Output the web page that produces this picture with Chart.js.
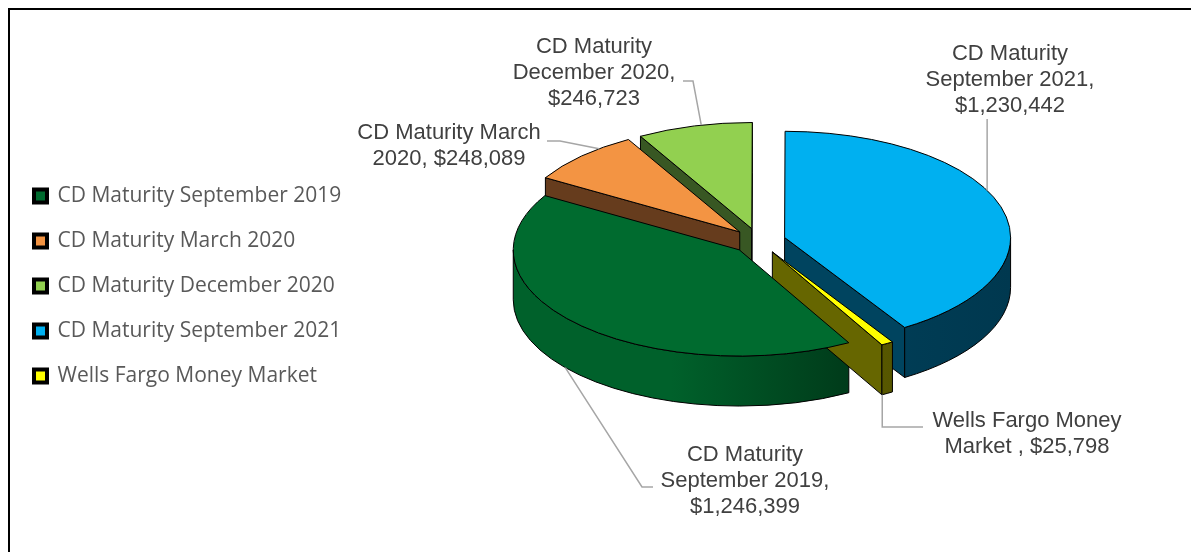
<!DOCTYPE html>
<html>
<head>
<meta charset="utf-8">
<script src="https://cdn.jsdelivr.net/npm/chart.js@4.4.1/dist/chart.umd.min.js"></script>
<style>
    html, body { margin: 0; padding: 0; background: #fff; }
    #wrap { position: relative; width: 1191px; height: 552px; overflow: hidden; }
    #frame { position: absolute; left: 8px; top: 8px; width: 1200px; height: 600px;
             border-left: 2px solid #000; border-top: 2px solid #000; pointer-events: none; }
    canvas { position: absolute; left: 0; top: 0; }
</style>
</head>
<body>
<div id="wrap">
    <canvas id="pie-chart" width="1191" height="552"></canvas>
    <div id="frame"></div>
</div>
<script>
// Portfolio data
const categories = [
    'CD Maturity September 2019',
    'CD Maturity March 2020',
    'CD Maturity December 2020',
    'CD Maturity September 2021',
    'Wells Fargo Money Market '
];
const balances = [1246399, 248089, 246723, 1230442, 25798];

// Colours: top face, side walls
const topColors = ['#006B2F', '#F39443', '#92D050', '#00B0F0', '#FFFF00'];
const sideColors = ['#00612B', '#663C1D', '#385723', '#00445F', '#666600'];
const sideDarkColors = ['#00220F', '#4A2A12', '#263D18', '#00384F', '#4D4D00'];

// 3D look
const TILT = 0.47;      // vertical squash of the pie
const DEPTH = 50;       // thickness in px
const EXPLODE = 27;     // pull-out of each slice
const SHIFT_Y = -45;    // pie sits above the chart-area centre

// Data label layout: text centre x, first line y, wrap width,
// where the leader touches the slice (fraction along the slice, depth)
// and the leader's elbows (null x = straight down from the anchor)
const labelLayout = [
    { x: 745, y: 455, wrap: 190, at: 0.53, z: DEPTH, leader: [[642, 487], [653, 487]] },
    { x: 449, y: 133, wrap: 200, at: 0.70, z: 0, leader: [[560, 141], [547, 141]] },
    { x: 594, y: 47, wrap: 190, at: 0.56, z: 0, leader: [[693, 81], [683, 81]] },
    { x: 1010, y: 54, wrap: 190, at: 0.43, z: 0, leader: [[null, 119]] },
    { x: 1027, y: 421, wrap: 200, at: 0.97, z: DEPTH, leader: [[null, 427], [923, 427]] }
];
const LABEL_FONT = '22px "Liberation Sans", Arial, sans-serif';
const LABEL_LINE = 26;

// pieces of [s, e] that face the viewer (canvas angles with sin > 0)
function frontRanges(s, e) {
    const out = [];
    for (let k = -1; k <= 2; k++) {
        const lo = Math.max(s, k * 2 * Math.PI);
        const hi = Math.min(e, k * 2 * Math.PI + Math.PI);
        if (hi > lo) out.push([lo, hi]);
    }
    return out;
}

function sliceGeometry(arc) {
    const p = arc.getProps(['x', 'y', 'startAngle', 'endAngle', 'outerRadius'], true);
    const mid = (p.startAngle + p.endAngle) / 2;
    return {
        arc: arc,
        x0: p.x,
        y0: p.y,
        s: p.startAngle,
        e: p.endAngle,
        r: p.outerRadius,
        cx: p.x + Math.cos(mid) * EXPLODE,
        cy: p.y + SHIFT_Y + Math.sin(mid) * EXPLODE * TILT
    };
}

function rimPoint(g, a, z) {
    return [g.cx + g.r * Math.cos(a), g.cy + g.r * TILT * Math.sin(a) + z];
}

function drawWall(ctx, g, a, color) {
    const [ox, oy] = rimPoint(g, a, 0);
    ctx.beginPath();
    ctx.moveTo(g.cx, g.cy);
    ctx.lineTo(ox, oy);
    ctx.lineTo(ox, oy + DEPTH);
    ctx.lineTo(g.cx, g.cy + DEPTH);
    ctx.closePath();
    ctx.fillStyle = color;
    ctx.fill();
    ctx.stroke();
}

function drawRim(ctx, g, i) {
    frontRanges(g.s, g.e).forEach(([t0, t1]) => {
        const grad = ctx.createLinearGradient(g.cx - g.r, 0, g.cx + g.r, 0);
        grad.addColorStop(0, sideColors[i]);
        grad.addColorStop(0.35, sideColors[i]);
        grad.addColorStop(1, sideDarkColors[i]);
        ctx.beginPath();
        ctx.ellipse(g.cx, g.cy, g.r, g.r * TILT, 0, t0, t1);
        ctx.lineTo(g.cx + g.r * Math.cos(t1), g.cy + g.r * TILT * Math.sin(t1) + DEPTH);
        ctx.ellipse(g.cx, g.cy + DEPTH, g.r, g.r * TILT, 0, t1, t0, true);
        ctx.closePath();
        ctx.fillStyle = grad;
        ctx.fill();
        ctx.stroke();
    });
}

const pie3dPlugin = {
    id: 'pie3d',
    beforeDatasetsDraw(chart) {
        const ctx = chart.ctx;
        const slices = chart.getDatasetMeta(0).data.map(sliceGeometry);

        // sides, back to front
        const depthKey = g => Math.sin((g.s + g.e) / 2) + (frontRanges(g.s, g.e).length ? 1 : 0);
        const order = slices.map((g, i) => i).sort((a, b) => depthKey(slices[a]) - depthKey(slices[b]));
        ctx.save();
        ctx.lineWidth = 1;
        ctx.strokeStyle = '#000';
        ctx.lineJoin = 'round';
        order.forEach(i => {
            const g = slices[i];
            if (Math.cos(g.s) < 0) drawWall(ctx, g, g.s, sideColors[i]);
            if (Math.cos(g.e) > 0) drawWall(ctx, g, g.e, sideColors[i]);
            drawRim(ctx, g, i);
        });
        ctx.restore();

        // top faces: Chart.js arcs, squashed and pulled out
        slices.forEach(g => {
            ctx.save();
            ctx.translate(g.cx, g.cy);
            ctx.scale(1, TILT);
            ctx.translate(-g.x0, -g.y0);
            g.arc.draw(ctx);
            ctx.restore();
            ctx.save();
            ctx.beginPath();
            ctx.moveTo(g.cx, g.cy);
            ctx.ellipse(g.cx, g.cy, g.r, g.r * TILT, 0, g.s, g.e);
            ctx.closePath();
            ctx.lineWidth = 1;
            ctx.strokeStyle = '#000';
            ctx.lineJoin = 'round';
            ctx.stroke();
            ctx.restore();
        });
        chart.$slices = slices;
        return false;
    }
};

function wrapText(ctx, text, width) {
    const words = text.split(' ');
    const lines = [];
    let line = '';
    words.forEach(w => {
        const test = line ? line + ' ' + w : w;
        if (line && ctx.measureText(test).width > width) {
            lines.push(line);
            line = w;
        } else {
            line = test;
        }
    });
    if (line) lines.push(line);
    return lines;
}

const dataLabelPlugin = {
    id: 'dataLabels',
    afterDraw(chart) {
        const ctx = chart.ctx;
        const slices = chart.$slices || [];
        ctx.save();
        ctx.font = LABEL_FONT;
        ctx.textAlign = 'center';
        ctx.textBaseline = 'middle';
        labelLayout.forEach((lay, i) => {
            const g = slices[i];
            if (g) {
                const a = g.s + lay.at * (g.e - g.s);
                const anchor = rimPoint(g, a, lay.z);
                ctx.beginPath();
                ctx.moveTo(anchor[0], anchor[1]);
                lay.leader.forEach(([x, y]) => ctx.lineTo(x === null ? anchor[0] : x, y));
                ctx.strokeStyle = '#A6A6A6';
                ctx.lineWidth = 1.5;
                ctx.stroke();
            }
            const text = categories[i] + ', $' + balances[i].toLocaleString('en-US');
            ctx.fillStyle = '#404040';
            wrapText(ctx, text, lay.wrap).forEach((line, j) => {
                ctx.fillText(line, lay.x, lay.y + j * LABEL_LINE);
            });
        });
        ctx.restore();
    }
};

const ctx = document.getElementById('pie-chart').getContext('2d');
const pieChart = new Chart(ctx, {
    type: 'pie',
    data: {
        labels: categories,
        datasets: [{
            data: balances,
            backgroundColor: topColors,
            borderWidth: 0
        }]
    },
    options: {
        responsive: false,
        animation: false,
        events: [],
        rotation: 151,
        radius: 226,
        layout: { padding: { left: 10, top: 20, right: 25, bottom: 0 } },
        plugins: {
            tooltip: { enabled: false },
            legend: {
                position: 'left',
                labels: {
                    boxWidth: 13,
                    boxHeight: 13,
                    padding: 24,
                    color: '#595959',
                    font: { family: '"Open Sans", sans-serif', size: 21 },
                    generateLabels(chart) {
                        const items = Chart.overrides.pie.plugins.legend.labels.generateLabels(chart);
                        return items.map(item => Object.assign(item, {
                            text: item.text.trim(),
                            strokeStyle: '#000',
                            lineWidth: 4
                        }));
                    }
                }
            }
        }
    },
    plugins: [pie3dPlugin, dataLabelPlugin]
});
</script>
</body>
</html>
